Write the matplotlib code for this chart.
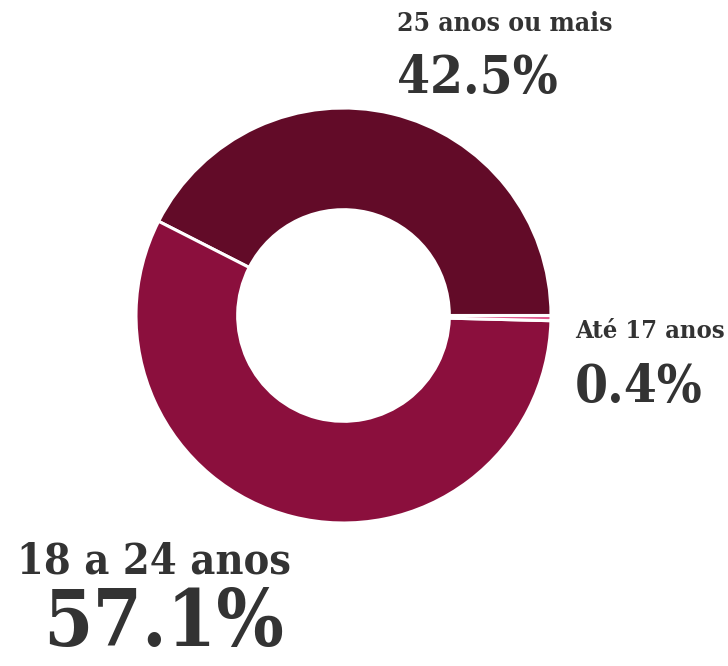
import matplotlib
matplotlib.use("Agg")
import matplotlib.pyplot as plt

categories = ["25 anos ou mais", "18 a 24 anos", "Até 17 anos"]
values = [42.5, 57.1, 0.4]
pct_labels = ["42.5%", "57.1%", "0.4%"]
colors = ["#620b28", "#8b0f3d", "#e0558a"]

W, H = 728, 666
fig = plt.figure(figsize=(W / 100, H / 100), dpi=100)
ax = fig.add_axes([0, 0, 1, 1])

cx, cy, R = 343.5, 315.5, 207.5
ax.pie(values, colors=colors, startangle=0, counterclock=True, radius=1,
       wedgeprops=dict(width=0.49, edgecolor="white", linewidth=2.2))
ax.set_xlim(-cx / R, (W - cx) / R)
ax.set_ylim(-(H - cy) / R, cy / R)
ax.set_aspect("auto")
ax.axis("off")

fam = "DejaVu Serif"
tc = "#333333"

def put(x, y, s, size, ha="left"):
    fig.text(x / W, 1 - y / H, s, fontsize=size, fontweight="bold",
             family=fam, fontstretch="condensed", color=tc, ha=ha, va="baseline")

put(397, 31, categories[0], 19)
put(397, 93, pct_labels[0], 38)
put(575, 338, categories[2], 18.3)
put(575, 402, pct_labels[2], 38)
put(17, 574, categories[1], 31)
put(43, 646, pct_labels[1], 57)

fig.savefig("out.png", dpi=100)
